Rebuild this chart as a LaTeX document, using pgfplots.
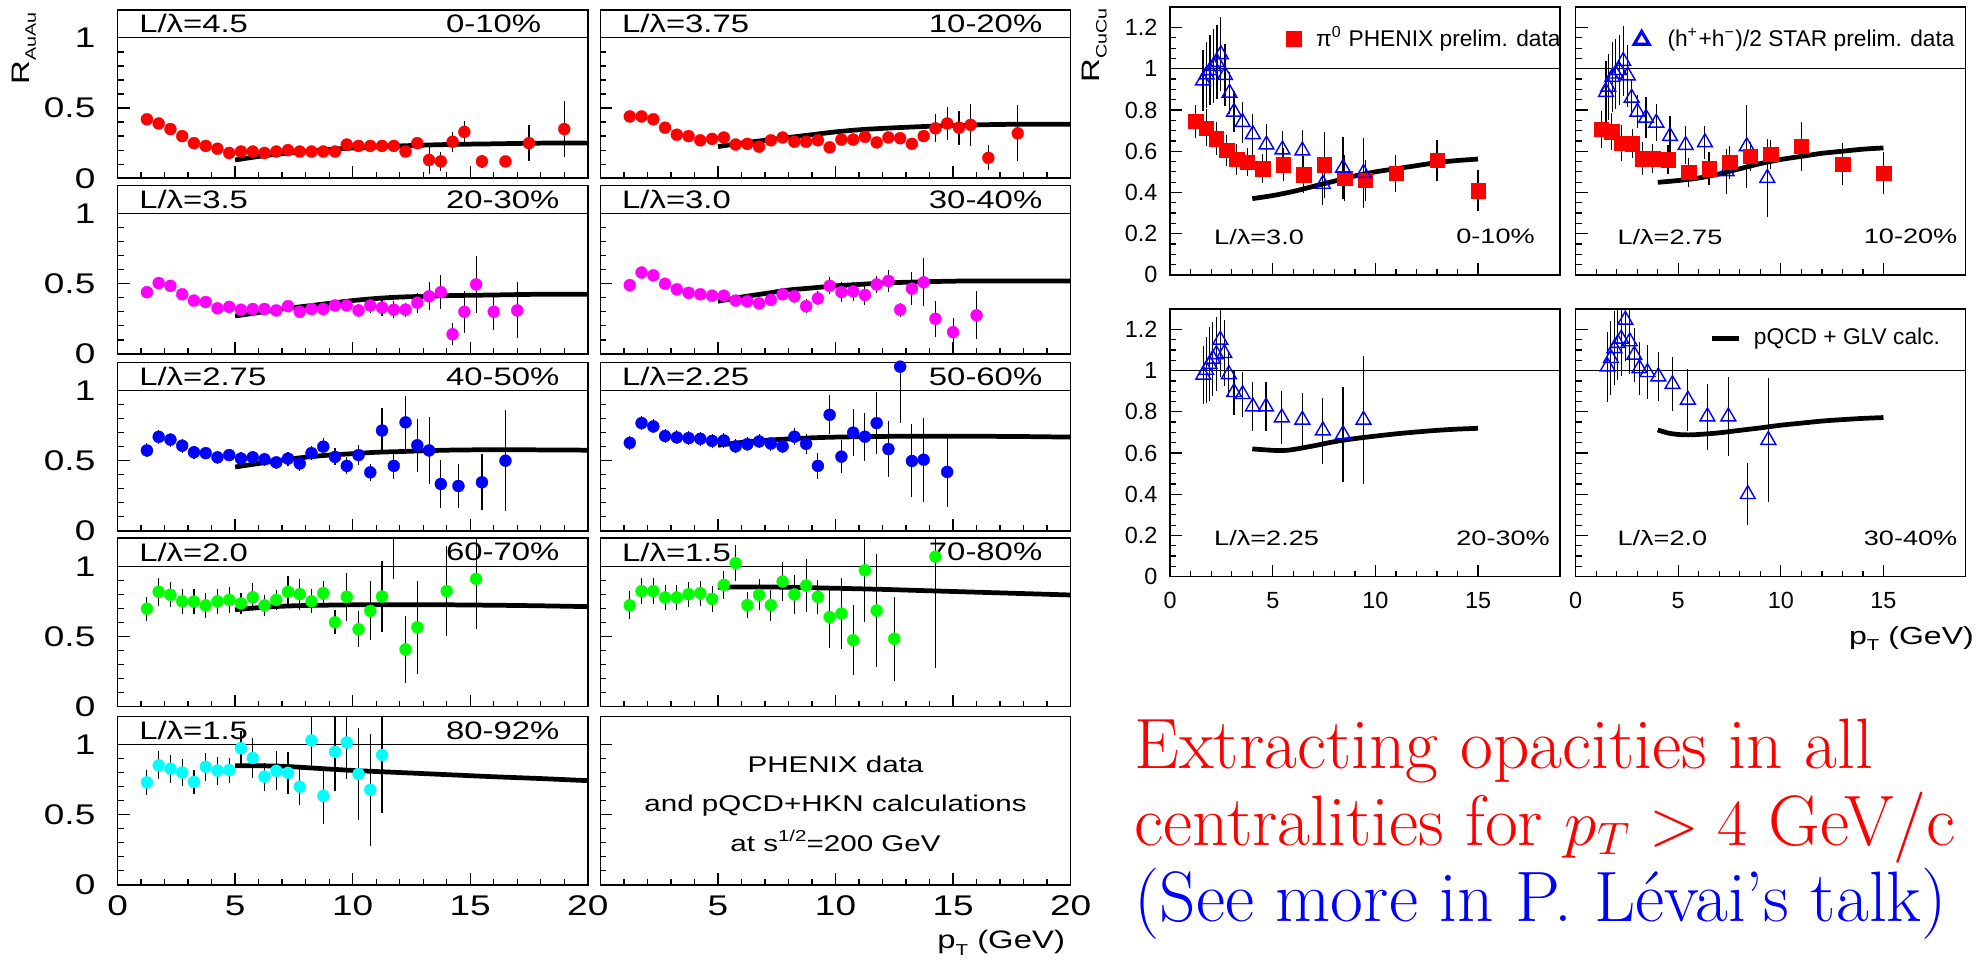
\documentclass[border=0pt]{standalone}
\usepackage{fontspec}
\usepackage{pgfplots}
\pgfplotsset{compat=1.18}
\newfontfamily\rf[FakeStretch=1.3]{Liberation Sans}
\newfontfamily\rn{Liberation Sans}
\definecolor{cR}{RGB}{255,0,0}
\definecolor{cM}{RGB}{255,0,255}
\definecolor{cB}{RGB}{0,0,255}
\definecolor{cG}{RGB}{0,255,0}
\definecolor{cC}{RGB}{0,255,255}
\newcommand{\hf}{\rf\fontsize{8}{9}\selectfont}
\newcommand{\bxf}{\rf\fontsize{7.2}{8}\selectfont}
\newcommand{\tfl}{\rf\fontsize{9}{10}\selectfont}
\newcommand{\tfr}{\rn\fontsize{7.4}{8}\selectfont}
\newcommand{\rhf}{\rf\fontsize{6.6}{7}\selectfont}
\newcommand{\lgf}{\rn\fontsize{7.2}{8}\selectfont}
\pgfplotsset{
  rootax/.style={scale only axis, clip=true, axis line style={line width=0.5pt},
    tick align=inside, xtick pos=bottom, ytick pos=left,
    tick style={black, line width=0.4pt}, major tick length=3.8pt, minor tick length=1.9pt,
    /pgf/number format/assume math mode=true},
  lp/.style={rootax, width=148.8pt, height=53.3pt, xmin=0, xmax=20, ymin=0, ymax=1.2,
    xtick={0,5,10,15,20}, minor x tick num=4, ytick={0,0.5,1}, minor y tick num=4,
    tick label style={font=\tfl}, yticklabel style={xshift=-3.5pt}},
  rp/.style={rootax, width=123.4pt, height=84.8pt, xmin=0, xmax=19, ymin=0, ymax=1.3,
    xtick={0,5,10,15}, minor x tick num=4, ytick={0,0.2,0.4,0.6,0.8,1,1.2}, minor y tick num=3,
    tick label style={font=\tfr}, xticklabel style={yshift=-1.5pt}, yticklabel style={xshift=-0.5pt}},
  ebar/.style={error bars/y dir=both, error bars/y explicit, error bars/error mark=none,
    error bars/error bar style={black, line width=0.35pt}},
  ldot/.style={only marks, mark=*, mark size=1.9pt, mark options={fill=#1, draw=#1, line width=0.1pt}, ebar},
  sq/.style={only marks, mark=square*, mark size=2.3pt, mark options={fill=cR, draw=cR, line width=0.1pt}, ebar},
  tri/.style={only marks, mark=triangle, mark size=2.7pt, mark options={draw=cB, fill=none, line width=0.45pt}, ebar},
  curve/.style={black, line width=1.5pt, smooth, no marks},
  one/.style={black, line width=0.4pt, no marks, forget plot},
  mlegend/.style={legend style={at={(axis cs:#1)}, anchor=west, draw=none, fill=none, font=\lgf, inner sep=0pt},
    legend image code/.code={\path (0cm,0cm) (0.32cm,0cm); \draw[##1] plot coordinates {(0.15cm,0cm)};}},
}
\begin{document}
\begin{tikzpicture}
\path[use as bounding box] (0pt,0pt) rectangle (627.2pt,305.2pt);

% ---------- Row 1 ----------
\begin{axis}[lp, at={(37.2pt,248.8pt)}, anchor=south west, xticklabels={}, yticklabels={0,0.5,1}]
\addplot[one] coordinates {(0,1) (20,1)};
\addplot[ldot=cR] table[x=x,y=y,y error=e] {
x y e
1.25 0.42 0.025
1.75 0.39 0.025
2.25 0.35 0.02
2.75 0.30 0.02
3.25 0.25 0.02
3.75 0.23 0.02
4.25 0.21 0.02
4.75 0.18 0.02
5.25 0.19 0.02
5.75 0.19 0.02
6.25 0.18 0.015
6.75 0.19 0.015
7.25 0.20 0.015
7.75 0.19 0.015
8.25 0.19 0.015
8.75 0.19 0.015
9.25 0.19 0.02
9.75 0.24 0.025
10.25 0.23 0.025
10.75 0.23 0.03
11.25 0.23 0.03
11.75 0.23 0.03
12.25 0.19 0.04
12.75 0.25 0.04
13.25 0.13 0.1
13.75 0.12 0.07
14.25 0.26 0.07
14.75 0.33 0.08
15.5 0.12 0.045
16.5 0.12 0.04
17.5 0.25 0.13
19.0 0.35 0.2
};
\addplot[curve] coordinates {(5,0.13)(6,0.155)(7,0.175)(8,0.19)(9,0.205)(10,0.215)(12,0.23)(14,0.24)(16,0.245)(18,0.25)(20,0.25)};
\node[anchor=west, font=\hf] at (axis cs:0.45,1.1) {L/λ=4.5};
\node[anchor=west, font=\hf] at (axis cs:13.5,1.1) {0-10\%};
\end{axis}

\begin{axis}[lp, at={(190pt,248.8pt)}, anchor=south west, xticklabels={}, yticklabels={}]
\addplot[one] coordinates {(0,1) (20,1)};
\addplot[ldot=cR] table[x=x,y=y,y error=e] {
x y e
1.25 0.44 0.03
1.75 0.44 0.03
2.25 0.42 0.03
2.75 0.36 0.03
3.25 0.31 0.025
3.75 0.30 0.025
4.25 0.27 0.025
4.75 0.28 0.025
5.25 0.29 0.025
5.75 0.24 0.025
6.25 0.245 0.025
6.75 0.225 0.025
7.25 0.27 0.025
7.75 0.29 0.025
8.25 0.26 0.025
8.75 0.26 0.025
9.25 0.27 0.025
9.75 0.22 0.03
10.25 0.275 0.04
10.75 0.275 0.04
11.25 0.295 0.04
11.75 0.255 0.04
12.25 0.29 0.03
12.75 0.285 0.04
13.25 0.245 0.04
13.75 0.30 0.04
14.25 0.355 0.1
14.75 0.39 0.12
15.25 0.36 0.12
15.75 0.38 0.15
16.5 0.145 0.09
17.75 0.32 0.2
};
\addplot[curve] coordinates {(5,0.225)(6,0.25)(7,0.27)(8,0.29)(9,0.31)(10,0.33)(11,0.345)(12,0.355)(14,0.37)(16,0.38)(18,0.385)(20,0.385)};
\node[anchor=west, font=\hf] at (axis cs:0.45,1.1) {L/λ=3.75};
\node[anchor=west, font=\hf] at (axis cs:13.5,1.1) {10-20\%};
\end{axis}

% ---------- Row 2 ----------
\begin{axis}[lp, at={(37.2pt,193.2pt)}, anchor=south west, xticklabels={}, yticklabels={0,0.5,1}]
\addplot[one] coordinates {(0,1) (20,1)};
\addplot[ldot=cM] table[x=x,y=y,y error=e] {
x y e
1.25 0.44 0.04
1.75 0.505 0.04
2.25 0.485 0.04
2.75 0.425 0.035
3.25 0.38 0.03
3.75 0.37 0.03
4.25 0.325 0.03
4.75 0.335 0.03
5.25 0.315 0.03
5.75 0.32 0.03
6.25 0.32 0.03
6.75 0.31 0.03
7.25 0.34 0.03
7.75 0.30 0.03
8.25 0.32 0.03
8.75 0.32 0.03
9.25 0.345 0.035
9.75 0.345 0.04
10.25 0.31 0.045
10.75 0.345 0.05
11.25 0.33 0.06
11.75 0.315 0.06
12.25 0.315 0.05
12.75 0.365 0.07
13.25 0.41 0.1
13.75 0.44 0.12
14.25 0.14 0.08
14.75 0.30 0.15
15.25 0.495 0.2
16.0 0.30 0.13
17.0 0.31 0.2
};
\addplot[curve] coordinates {(5,0.27)(6,0.295)(7,0.32)(8,0.34)(9,0.36)(10,0.38)(11,0.395)(12,0.405)(13,0.41)(14,0.415)(16,0.42)(18,0.425)(20,0.425)};
\node[anchor=west, font=\hf] at (axis cs:0.45,1.1) {L/λ=3.5};
\node[anchor=west, font=\hf] at (axis cs:13.5,1.1) {20-30\%};
\end{axis}

\begin{axis}[lp, at={(190pt,193.2pt)}, anchor=south west, xticklabels={}, yticklabels={}]
\addplot[one] coordinates {(0,1) (20,1)};
\addplot[ldot=cM] table[x=x,y=y,y error=e] {
x y e
1.25 0.49 0.04
1.75 0.58 0.04
2.25 0.56 0.04
2.75 0.50 0.04
3.25 0.46 0.035
3.75 0.435 0.035
4.25 0.425 0.035
4.75 0.415 0.035
5.25 0.415 0.035
5.75 0.38 0.035
6.25 0.375 0.035
6.75 0.36 0.035
7.25 0.385 0.04
7.75 0.425 0.04
8.25 0.41 0.045
8.75 0.34 0.05
9.25 0.395 0.05
9.75 0.485 0.06
10.25 0.44 0.07
10.75 0.445 0.07
11.25 0.42 0.07
11.75 0.495 0.06
12.25 0.52 0.08
12.75 0.315 0.05
13.25 0.465 0.12
13.75 0.51 0.17
14.25 0.25 0.13
15.0 0.155 0.1
16.0 0.275 0.17
};
\addplot[curve] coordinates {(5,0.375)(6,0.405)(7,0.43)(8,0.455)(9,0.47)(10,0.485)(11,0.495)(12,0.505)(14,0.515)(16,0.52)(20,0.52)};
\node[anchor=west, font=\hf] at (axis cs:0.45,1.1) {L/λ=3.0};
\node[anchor=west, font=\hf] at (axis cs:13.5,1.1) {30-40\%};
\end{axis}

% ---------- Row 3 ----------
\begin{axis}[lp, at={(37.2pt,137.2pt)}, anchor=south west, xticklabels={}, yticklabels={0,0.5,1}]
\addplot[one] coordinates {(0,1) (20,1)};
\addplot[ldot=cB] table[x=x,y=y,y error=e] {
x y e
1.25 0.573 0.05
1.75 0.67 0.05
2.25 0.65 0.05
2.75 0.607 0.05
3.25 0.56 0.045
3.75 0.554 0.045
4.25 0.524 0.045
4.75 0.54 0.045
5.25 0.515 0.045
5.75 0.524 0.045
6.25 0.51 0.045
6.75 0.488 0.045
7.25 0.515 0.05
7.75 0.48 0.05
8.25 0.554 0.05
8.75 0.60 0.06
9.25 0.527 0.06
9.75 0.463 0.06
10.25 0.54 0.07
10.75 0.417 0.06
11.25 0.715 0.16
11.75 0.463 0.09
12.25 0.773 0.19
12.75 0.61 0.19
13.25 0.573 0.24
13.75 0.334 0.17
14.5 0.32 0.16
15.5 0.346 0.2
16.5 0.50 0.36
};
\addplot[curve] coordinates {(5,0.455)(6,0.48)(7,0.505)(8,0.525)(9,0.54)(10,0.55)(11,0.56)(12,0.565)(14,0.575)(16,0.578)(18,0.577)(20,0.575)};
\node[anchor=west, font=\hf] at (axis cs:0.45,1.1) {L/λ=2.75};
\node[anchor=west, font=\hf] at (axis cs:13.5,1.1) {40-50\%};
\end{axis}

\begin{axis}[lp, at={(190pt,137.2pt)}, anchor=south west, xticklabels={}, yticklabels={}]
\addplot[one] coordinates {(0,1) (20,1)};
\addplot[ldot=cB] table[x=x,y=y,y error=e] {
x y e
1.25 0.627 0.05
1.75 0.768 0.05
2.25 0.744 0.05
2.75 0.676 0.05
3.25 0.666 0.05
3.75 0.661 0.05
4.25 0.656 0.05
4.75 0.641 0.05
5.25 0.644 0.05
5.75 0.602 0.05
6.25 0.617 0.05
6.75 0.637 0.05
7.25 0.622 0.05
7.75 0.602 0.05
8.25 0.671 0.06
8.75 0.620 0.07
9.25 0.463 0.09
9.75 0.827 0.14
10.25 0.529 0.12
10.75 0.700 0.17
11.25 0.671 0.17
11.75 0.768 0.22
12.25 0.583 0.2
12.75 1.17 0.4
13.25 0.498 0.26
13.75 0.507 0.3
14.75 0.420 0.25
};
\addplot[curve] coordinates {(5,0.61)(6,0.63)(7,0.645)(8,0.655)(9,0.663)(10,0.668)(12,0.673)(14,0.675)(16,0.674)(18,0.672)(20,0.668)};
\node[anchor=west, font=\hf] at (axis cs:0.45,1.1) {L/λ=2.25};
\node[anchor=west, font=\hf] at (axis cs:13.5,1.1) {50-60\%};
\end{axis}

% ---------- Row 4 ----------
\begin{axis}[lp, at={(37.2pt,81.6pt)}, anchor=south west, xticklabels={}, yticklabels={0,0.5,1}]
\addplot[one] coordinates {(0,1) (20,1)};
\addplot[ldot=cG] table[x=x,y=y,y error=e] {
x y e
1.25 0.697 0.085
1.75 0.818 0.1
2.25 0.796 0.09
2.75 0.750 0.09
3.25 0.748 0.09
3.75 0.721 0.09
4.25 0.750 0.09
4.75 0.760 0.09
5.25 0.735 0.075
5.75 0.779 0.1
6.25 0.721 0.075
6.75 0.760 0.07
7.25 0.818 0.11
7.75 0.801 0.11
8.25 0.750 0.085
8.75 0.808 0.09
9.25 0.600 0.085
9.75 0.782 0.17
10.25 0.551 0.13
10.75 0.682 0.21
11.25 0.784 0.25
11.75 1.40 0.49
12.25 0.408 0.24
12.75 0.565 0.33
14.0 0.823 0.32
15.25 0.910 0.36
};
\addplot[curve] coordinates {(5,0.69)(6,0.705)(7,0.715)(8,0.72)(10,0.725)(12,0.725)(14,0.725)(16,0.722)(18,0.718)(20,0.712)};
\node[anchor=west, font=\hf] at (axis cs:0.45,1.1) {L/λ=2.0};
\node[anchor=west, font=\hf] at (axis cs:13.5,1.1) {60-70\%};
\end{axis}

\begin{axis}[lp, at={(190pt,81.6pt)}, anchor=south west, xticklabels={}, yticklabels={}]
\addplot[one] coordinates {(0,1) (20,1)};
\addplot[ldot=cG] table[x=x,y=y,y error=e] {
x y e
1.25 0.721 0.1
1.75 0.823 0.09
2.25 0.823 0.09
2.75 0.777 0.09
3.25 0.777 0.09
3.75 0.801 0.09
4.25 0.808 0.09
4.75 0.767 0.09
5.25 0.867 0.1
5.75 1.022 0.13
6.25 0.723 0.09
6.75 0.796 0.11
7.25 0.723 0.11
7.75 0.891 0.14
8.25 0.799 0.14
8.75 0.862 0.19
9.25 0.782 0.12
9.75 0.638 0.22
10.25 0.663 0.25
10.75 0.473 0.25
11.25 0.971 0.37
11.75 0.684 0.4
12.5 0.483 0.3
14.25 1.068 0.79
};
\addplot[curve] coordinates {(5,0.85)(6,0.852)(7,0.852)(8,0.85)(10,0.843)(12,0.835)(14,0.825)(16,0.815)(18,0.805)(20,0.795)};
\node[anchor=west, font=\hf] at (axis cs:0.45,1.1) {L/λ=1.5};
\node[anchor=west, font=\hf] at (axis cs:13.5,1.1) {70-80\%};
\end{axis}

% ---------- Row 5 ----------
\begin{axis}[lp, at={(37.2pt,25.2pt)}, anchor=south west, xticklabels={0,5,10,15,20}, yticklabels={0,0.5,1}]
\addplot[one] coordinates {(0,1) (20,1)};
\addplot[ldot=cC] table[x=x,y=y,y error=e] {
x y e
1.25 0.730 0.09
1.75 0.851 0.1
2.25 0.827 0.1
2.75 0.800 0.095
3.25 0.733 0.085
3.75 0.841 0.1
4.25 0.814 0.1
4.75 0.817 0.09
5.25 0.973 0.12
5.75 0.904 0.14
6.25 0.771 0.1
6.75 0.812 0.14
7.25 0.798 0.15
7.75 0.699 0.13
8.25 1.029 0.2
8.75 0.634 0.2
9.25 0.947 0.28
9.75 1.014 0.26
10.25 0.790 0.33
10.75 0.677 0.4
11.25 0.925 0.41
};
\addplot[curve] coordinates {(5,0.848)(6,0.848)(7,0.845)(8,0.835)(10,0.815)(12,0.8)(14,0.785)(16,0.77)(18,0.757)(20,0.742)};
\node[anchor=west, font=\hf] at (axis cs:0.45,1.1) {L/λ=1.5};
\node[anchor=west, font=\hf] at (axis cs:13.5,1.1) {80-92\%};
\end{axis}

\begin{axis}[lp, at={(190pt,25.2pt)}, anchor=south west, xticklabels={,5,10,15,20}, yticklabels={}]
\node[font=\bxf] at (axis cs:10,0.856) {PHENIX data};
\node[font=\bxf] at (axis cs:10,0.567) {and pQCD+HKN calculations};
\node[font=\bxf] at (axis cs:10,0.315) {at s\raisebox{0.8ex}{\fontsize{5}{5}\selectfont 1/2}=200 GeV};
\end{axis}

% ---------- Right: top row ----------
\begin{axis}[rp, at={(370.3pt,218.2pt)}, anchor=south west, xticklabels={}, yticklabels={0,0.2,0.4,0.6,0.8,1,1.2},
  mlegend={5.31,1.146}]
\addplot[sq] table[x=x,y=y,y error=e] {
x y e
1.25 0.746 0.08
1.75 0.713 0.09
2.25 0.660 0.08
2.75 0.605 0.075
3.25 0.562 0.075
3.75 0.548 0.07
4.5 0.515 0.07
5.5 0.535 0.08
6.5 0.486 0.09
7.5 0.535 0.16
8.5 0.470 0.11
9.5 0.459 0.1
11.0 0.494 0.09
13.0 0.556 0.1
15.0 0.408 0.1
};
\addlegendentry{π\textsuperscript{0} PHENIX prelim. data}
\addplot[tri] table[x=x,y=y,y error=e] {
x y e
1.6 0.943 0.15
1.78 0.972 0.16
1.94 0.992 0.17
2.11 1.013 0.18
2.28 1.032 0.18
2.47 1.07 0.18
2.67 0.969 0.15
2.89 0.883 0.1
3.11 0.791 0.1
3.53 0.741 0.1
4.03 0.682 0.1
4.69 0.632 0.1
5.47 0.608 0.09
6.44 0.603 0.1
7.44 0.441 0.1
8.42 0.519 0.15
9.42 0.494 0.17
};
\addplot[curve] coordinates {(4,0.37)(5,0.385)(6,0.405)(7,0.43)(8,0.455)(9,0.48)(10,0.5)(11,0.515)(12,0.53)(13,0.545)(14,0.555)(15,0.562)};
\addplot[one] coordinates {(0,1) (19,1)};
\node[anchor=west, font=\rhf] at (axis cs:1.6,0.186) {L/λ=3.0};
\node[anchor=west, font=\rhf] at (axis cs:13.4,0.186) {0-10\%};
\end{axis}

\begin{axis}[rp, at={(498.6pt,218.2pt)}, anchor=south west, xticklabels={}, yticklabels={},
  legend style={at={(axis cs:2.5,1.14)}, anchor=west, draw=none, fill=none, font=\lgf, inner sep=0pt},
  legend image code/.code={\path (0cm,0cm) (0.36cm,0cm); \draw[#1, mark options={draw=cB, fill=none, line width=1pt}] plot coordinates {(0.15cm,0cm)};}]
\addplot[tri] table[x=x,y=y,y error=e] {
x y e
1.48 0.887 0.15
1.59 0.912 0.16
1.79 0.960 0.17
1.95 0.976 0.17
2.12 0.993 0.17
2.32 1.037 0.17
2.54 0.967 0.15
2.73 0.859 0.09
3.01 0.791 0.08
3.43 0.762 0.1
3.93 0.738 0.09
4.6 0.673 0.1
5.36 0.630 0.09
6.3 0.643 0.08
7.36 0.502 0.11
8.34 0.624 0.2
9.34 0.470 0.19
};
\addlegendentry{(h\textsuperscript{+}+h\textsuperscript{−})/2 STAR prelim. data}
\addplot[sq] table[x=x,y=y,y error=e] {
x y e
1.25 0.707 0.09
1.75 0.694 0.09
2.25 0.640 0.085
2.75 0.637 0.07
3.25 0.564 0.08
3.75 0.564 0.07
4.5 0.558 0.07
5.5 0.498 0.07
6.5 0.515 0.08
7.5 0.546 0.08
8.5 0.575 0.07
9.5 0.585 0.07
11.0 0.624 0.12
13.0 0.538 0.1
15.0 0.494 0.1
};
\addplot[curve] coordinates {(4,0.449)(5,0.458)(6,0.47)(7,0.49)(8,0.515)(9,0.54)(10,0.56)(11,0.575)(12,0.59)(13,0.6)(14,0.61)(15,0.616)};
\addplot[one] coordinates {(0,1) (19,1)};
\node[anchor=west, font=\rhf] at (axis cs:1.5,0.186) {L/λ=2.75};
\node[anchor=west, font=\rhf] at (axis cs:13.5,0.186) {10-20\%};
\end{axis}

% ---------- Right: bottom row ----------
\begin{axis}[rp, at={(370.3pt,122.7pt)}, anchor=south west, xticklabels={0,5,10,15}, yticklabels={0,0.2,0.4,0.6,0.8,1,1.2}]
\addplot[tri] table[x=x,y=y,y error=e] {
x y e
1.61 0.979 0.14
1.75 1.003 0.16
1.92 1.031 0.18
2.08 1.057 0.18
2.25 1.079 0.18
2.44 1.149 0.18
2.64 1.084 0.16
2.86 0.982 0.11
3.11 0.895 0.11
3.53 0.885 0.11
4.03 0.825 0.12
4.67 0.825 0.12
5.44 0.772 0.13
6.44 0.761 0.13
7.44 0.709 0.16
8.42 0.691 0.23
9.42 0.761 0.31
};
\addplot[curve] coordinates {(4,0.62)(5,0.613)(5.5,0.612)(6,0.617)(7,0.635)(8,0.655)(9,0.67)(10,0.682)(11,0.693)(12,0.702)(13,0.71)(14,0.716)(15,0.72)};
\addplot[one] coordinates {(0,1) (19,1)};
\node[anchor=west, font=\rhf] at (axis cs:1.6,0.186) {L/λ=2.25};
\node[anchor=west, font=\rhf] at (axis cs:13.4,0.186) {20-30\%};
\end{axis}

\begin{axis}[rp, at={(498.6pt,122.7pt)}, anchor=south west, xticklabels={0,5,10,15}, yticklabels={},
  legend style={at={(axis cs:6.5,1.154)}, anchor=west, draw=none, fill=none, font=\lgf, inner sep=0pt},
  legend image code/.code={\path (0pt,0pt) (10.5pt,0pt); \draw[black, line width=1.5pt] (0pt,0pt) -- (8.6pt,0pt);}]
\addplot[curve] coordinates {(4,0.712)(4.5,0.697)(5,0.69)(5.5,0.688)(6,0.69)(7,0.698)(8,0.71)(9,0.722)(10,0.735)(11,0.745)(12,0.755)(13,0.762)(14,0.768)(15,0.772)};
\addlegendentry{pQCD + GLV calc.}
\addplot[tri] table[x=x,y=y,y error=e] {
x y e
1.56 1.019 0.17
1.72 1.06 0.18
1.89 1.108 0.18
2.06 1.133 0.18
2.22 1.154 0.18
2.42 1.246 0.2
2.64 1.141 0.16
2.86 1.076 0.13
3.11 1.011 0.13
3.5 0.992 0.13
4.03 0.971 0.12
4.72 0.934 0.13
5.47 0.858 0.15
6.42 0.777 0.16
7.44 0.777 0.19
8.39 0.400 0.15
9.39 0.663 0.3
};
\addplot[one] coordinates {(0,1) (19,1)};
\node[anchor=west, font=\rhf] at (axis cs:1.5,0.186) {L/λ=2.0};
\node[anchor=west, font=\rhf] at (axis cs:13.5,0.186) {30-40\%};
\end{axis}

% ---------- Axis titles ----------
\node[rotate=90, anchor=east, inner sep=0pt, font=\rf\fontsize{8}{9}\selectfont] at (7.6pt,301.4pt) {R\raisebox{-0.5ex}{\fontsize{4.8}{5}\selectfont AuAu}};
\node[rotate=90, anchor=east, inner sep=0pt, font=\rf\fontsize{8}{9}\selectfont] at (346.4pt,302.8pt) {R\raisebox{-0.5ex}{\fontsize{4.8}{5}\selectfont CuCu}};
\node[anchor=east, inner sep=0pt, font=\rf\fontsize{8}{9}\selectfont] at (337.2pt,6.8pt) {p\raisebox{-0.5ex}{\fontsize{5}{6}\selectfont T} (GeV)};
\node[anchor=east, inner sep=0pt, font=\rf\fontsize{7.8}{9}\selectfont] at (624.8pt,103.2pt) {p\raisebox{-0.5ex}{\fontsize{5}{6}\selectfont T} (GeV)};

% ---------- Annotation ----------
\node[anchor=base west, inner sep=0pt, text=cR, font=\fontsize{22.6}{25}\selectfont] at (358.8pt,62pt) {Extracting opacities in all};
\node[anchor=base west, inner sep=0pt, text=cR, font=\fontsize{22.6}{25}\selectfont] at (358.8pt,37.8pt) {centralities for $p_T > 4$ GeV/c};
\node[anchor=base west, inner sep=0pt, text=cB, font=\fontsize{22.6}{25}\selectfont] at (358.8pt,13.6pt) {(See more in P. Lévai’s talk)};
\end{tikzpicture}
\end{document}
